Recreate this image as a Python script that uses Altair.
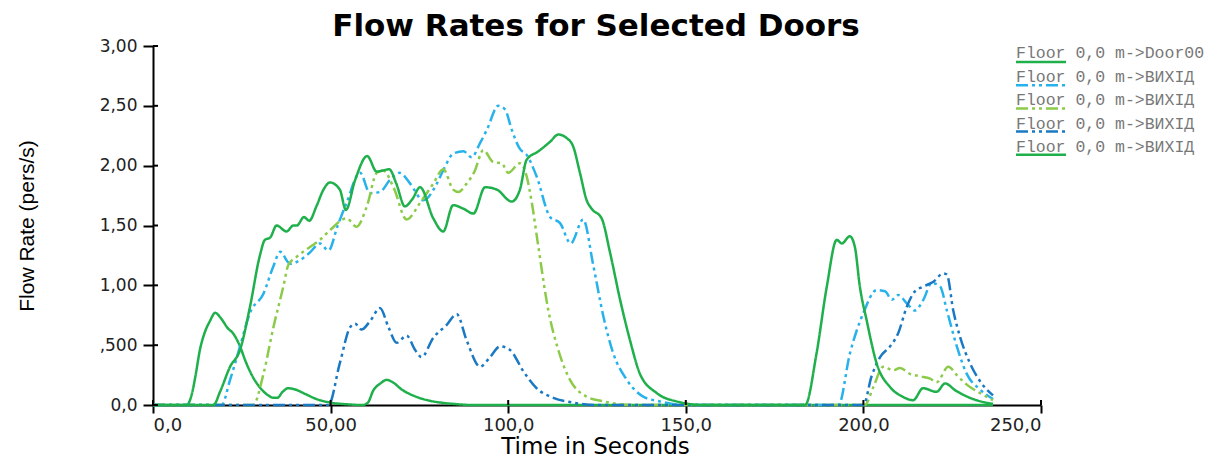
import altair as alt
import pandas as pd

# ---------------- data ----------------
keys = ["s1", "s2", "s3", "s4", "s5"]
legend_labels = ["Floor 0,0 m->Door00", "Floor 0,0 m->ВИХІД", "Floor 0,0 m->ВИХІД",
                 "Floor 0,0 m->ВИХІД", "Floor 0,0 m->ВИХІД"]
colors = ["#1fb04c", "#27b2ec", "#8ccb4a", "#1b79c4", "#1fb04c"]
chart_title = "Flow Rates for Selected Doors"

t1 = [0, 9.5, 11, 12, 13.2, 14.5, 16, 17.5, 19, 21.1, 22.5, 24.5, 26, 28, 30, 32, 34, 35,
      36.5, 38, 40, 43, 46, 50, 55, 59, 60.5, 62, 64, 65.8, 67.5, 70, 74, 78, 81, 85, 90, 100, 236.5]
v1 = [0, 0, 0.1, 0.25, 0.46, 0.6, 0.7, 0.77, 0.73, 0.64, 0.6, 0.49, 0.37, 0.24, 0.15, 0.09, 0.06, 0.06,
      0.11, 0.14, 0.13, 0.09, 0.05, 0.02, 0.005, 0, 0.02, 0.12, 0.18, 0.21, 0.19, 0.13, 0.07, 0.035, 0.02, 0.008, 0, 0, 0]

t2 = [0, 19.3, 21.7, 24.5, 27.3, 31.1, 33.9, 35.8, 38.6, 41.4, 44, 47, 49.4, 52, 54.5, 58.3, 61.1, 63.9,
      66.7, 69.5, 72.4, 76.1, 79.9, 82, 84.5, 87.4, 89.7, 92.1, 94, 97.2, 99.1, 101, 103.3, 105.2, 108,
      111.8, 114.6, 117.6, 121.1, 124, 126.8, 129.6, 133.4, 138, 142.7, 150, 193, 196.2, 200, 203.7,
      206.1, 208, 209.8, 212.2, 214.5, 216.9, 219.2, 221.6, 223.5, 226.3, 229.1, 232.8, 236.5]
v2 = [0, 0, 0.21, 0.49, 0.77, 0.93, 1.16, 1.28, 1.18, 1.21, 1.27, 1.35, 1.29, 1.5, 1.69, 1.94, 1.77, 1.78,
      1.88, 1.94, 1.85, 1.71, 1.85, 1.98, 2.1, 2.12, 2.07, 2.19, 2.3, 2.5, 2.47, 2.3, 2.14, 2.09, 1.91,
      1.57, 1.52, 1.35, 1.55, 1.16, 0.74, 0.43, 0.21, 0.07, 0.03, 0, 0, 0.43, 0.77, 0.96,
      0.95, 0.88, 0.92, 0.85, 0.79, 0.88, 1.02, 0.99, 0.79, 0.49, 0.26, 0.13, 0.05]

t3 = [0, 28.2, 31.1, 33.9, 36.7, 38.1, 40.5, 44.2, 47, 49.8, 54.5, 57.3, 60.2, 63, 64.8, 67.7, 71.4,
      75.2, 78.9, 81.7, 84.5, 86, 88.3, 90.5, 93, 95.8, 98.2, 100, 103.3, 105.2, 106.6, 108.5, 111.3,
      114.1, 117.4, 122.1, 126.8, 135, 200.4, 202.8, 205.6, 208.4, 210.3, 213.1, 216, 218.8, 220.6,
      223.9, 226.3, 229.1, 232.8, 236.5]
v3 = [0, 0, 0.26, 0.65, 0.99, 1.17, 1.24, 1.32, 1.38, 1.46, 1.56, 1.49, 1.66, 1.94, 1.96, 1.82, 1.55,
      1.69, 1.85, 1.97, 1.8, 1.78, 1.85, 1.95, 2.13, 2.03, 2.02, 1.94, 2.02, 1.91, 1.7, 1.32, 0.79,
      0.46, 0.21, 0.07, 0.03, 0, 0, 0.15, 0.32, 0.29, 0.31, 0.26, 0.24, 0.22, 0.19,
      0.32, 0.25, 0.17, 0.1, 0.04]

t4 = [0, 49.4, 52.6, 55.5, 56.9, 58.7, 61.1, 63.9, 66.3, 68.6, 71.4, 73.8, 75.6, 78.9, 82.7, 85.5, 88.3,
      92.1, 94.9, 97.7, 100.5, 104.3, 108, 112.7, 118.3, 125, 200, 202.3, 204.7, 207.5, 209.8, 212.2,
      214.5, 216.9, 219.7, 222.5, 223.5, 225.3, 227.2, 230, 233.3, 236.5]
v4 = [0, 0, 0.35, 0.65, 0.68, 0.63, 0.7, 0.81, 0.65, 0.52, 0.58, 0.46, 0.4, 0.56, 0.67, 0.76, 0.54,
      0.32, 0.4, 0.49, 0.46, 0.28, 0.14, 0.06, 0.02, 0, 0, 0.24, 0.4, 0.49, 0.6, 0.82,
      0.95, 0.99, 1.03, 1.1, 1.09, 0.79, 0.57, 0.35, 0.18, 0.08]

t5 = [0, 17, 19, 21.7, 24.5, 27.3, 30.1, 31.5, 33, 34.8, 37.6, 39.5, 40.5, 42.5, 44, 46, 48, 49.8,
      52.6, 54.3, 56.9, 60.3, 63, 64.8, 66.5, 68.5, 70.9, 73, 75.2, 78.9, 81.7, 84.5, 87.4, 90.2, 93.5,
      96.8, 101, 103.3, 105.2, 108.5, 111.8, 114.1, 116.5, 118.3, 120.2, 122.1, 123.5, 126.3, 128.7,
      131.5, 134.3, 137.1, 141.8, 147.4, 155, 183.6, 186.8, 189.7, 192.5, 193.9, 196.2, 197.6, 199,
      200.9, 203.7, 207.5, 211, 214, 216.8, 220.6, 223, 226, 230, 233, 236.5]
v5 = [0, 0, 0.12, 0.32, 0.46, 0.82, 1.25, 1.38, 1.4, 1.5, 1.45, 1.5, 1.5, 1.57, 1.54, 1.66, 1.8, 1.86,
      1.8, 1.63, 1.88, 2.08, 1.95, 1.96, 1.97, 1.85, 1.66, 1.72, 1.82, 1.56, 1.45, 1.67, 1.64, 1.6, 1.82,
      1.8, 1.7, 1.8, 2.05, 2.12, 2.2, 2.26, 2.23, 2.16, 1.94, 1.71, 1.64, 1.56, 1.27,
      0.88, 0.54, 0.26, 0.1, 0.03, 0, 0, 0.43, 0.99, 1.38, 1.35, 1.41, 1.32, 0.99,
      0.71, 0.35, 0.15, 0.07, 0.04, 0.14, 0.11, 0.18, 0.12, 0.06, 0.03, 0.01]

x_ticks = [0, 50, 100, 150, 200, 250]
x_labels = ["0,0", "50,00", "100,0", "150,0", "200,0", "250,0"]
y_ticks = [0, 0.5, 1.0, 1.5, 2.0, 2.5, 3.0]
y_labels = ["0,0", ",500", "1,00", "1,50", "2,00", "2,50", "3,00"]

# ---------------- build ----------------
series = [(t1, v1), (t2, v2), (t3, v3), (t4, v4), (t5, v5)]
rows = []
for k, (ts, vs) in zip(keys, series):
    for t, v in zip(ts, vs):
        rows.append({"key": k, "t": t, "v": v})
df = pd.DataFrame(rows)

solid = [1, 0]
dashdot = [12, 4, 3, 4, 3, 4]
dashes = [solid, dashdot, dashdot, dashdot, solid]

W, H = 888, 359


def label_expr(vals, labels):
    expr = "''"
    for v, l in reversed(list(zip(vals, labels))):
        expr = f"datum.value == {v} ? '{l}' : ({expr})"
    return expr


x_axis = alt.Axis(values=x_ticks, labelExpr=label_expr(x_ticks, x_labels), grid=False,
                  domainColor="black", domainWidth=2, tickColor="black", tickWidth=2, tickSize=8,
                  labelFont="DejaVu Sans", labelFontSize=18, labelColor="#222", labelPadding=3,
                  title="Time in Seconds", titleFont="DejaVu Sans", titleFontSize=23,
                  titleFontWeight="normal", titleColor="black", titleX=442, titleY=48,
                  titleBaseline="alphabetic", titleAlign="center")
y_axis = alt.Axis(values=y_ticks, labelExpr=label_expr(y_ticks, y_labels), grid=False,
                  domainColor="black", domainWidth=2, tickColor="black", tickWidth=2, tickSize=10,
                  labelFont="DejaVu Sans", labelFontSize=17, labelColor="#222", labelPadding=6,
                  title="Flow Rate (pers/s)", titleFont="Liberation Sans", titleFontSize=21,
                  titleFontWeight="normal", titleColor="black", titleX=-126, titleY=179.5,
                  titleAngle=-90, titleAlign="center", titleBaseline="middle")

lines = alt.Chart(df).mark_line(strokeWidth=2.5, interpolate="monotone").encode(
    x=alt.X("t:Q", scale=alt.Scale(domain=[0, 250], nice=False), axis=x_axis),
    y=alt.Y("v:Q", scale=alt.Scale(domain=[0, 3], nice=False), axis=y_axis),
    color=alt.Color("key:N", scale=alt.Scale(domain=keys, range=colors), legend=None),
    strokeDash=alt.StrokeDash("key:N", scale=alt.Scale(domain=keys, range=dashes), legend=None),
)

xt = alt.Chart(pd.DataFrame({"t": x_ticks})).mark_rule(color="black", strokeWidth=2).encode(
    x="t:Q", y=alt.value(H - 5), y2=alt.value(H))
yt = alt.Chart(pd.DataFrame({"v": y_ticks})).mark_rule(color="black", strokeWidth=2).encode(
    y="v:Q", x=alt.value(0), x2=alt.value(5))

title_layer = alt.Chart(pd.DataFrame({"label": [chart_title]})).mark_text(
    align="center", baseline="alphabetic", font="DejaVu Sans", fontSize=31, fontWeight="bold",
    color="black"
).encode(text="label:N", x=alt.value(443), y=alt.value(-10))

legend_layers = []
lx = 863
for i in range(5):
    ty = 7 + i * 23.6
    uy = 16 + i * 23.2
    legend_layers.append(
        alt.Chart(pd.DataFrame({"label": [legend_labels[i]]})).mark_text(
            align="left", baseline="middle", font="Liberation Mono", fontSize=16.5, color="#777"
        ).encode(text="label:N", x=alt.value(lx), y=alt.value(ty))
    )
    legend_layers.append(
        alt.Chart(pd.DataFrame({"label": [legend_labels[i]]})).mark_rule(
            strokeWidth=2.5, strokeDash=dashes[i], color=colors[i]
        ).encode(x=alt.value(lx), x2=alt.value(lx + 50), y=alt.value(uy))
    )

chart = alt.layer(lines, xt, yt, title_layer, *legend_layers).properties(
    width=W, height=H,
    padding={"left": 145, "top": 38, "right": 169, "bottom": 53},
    autosize=alt.AutoSizeParams(type="none"),
).configure_view(stroke=None)

chart.save("out.html", embed_options={"renderer": "svg", "actions": False})
